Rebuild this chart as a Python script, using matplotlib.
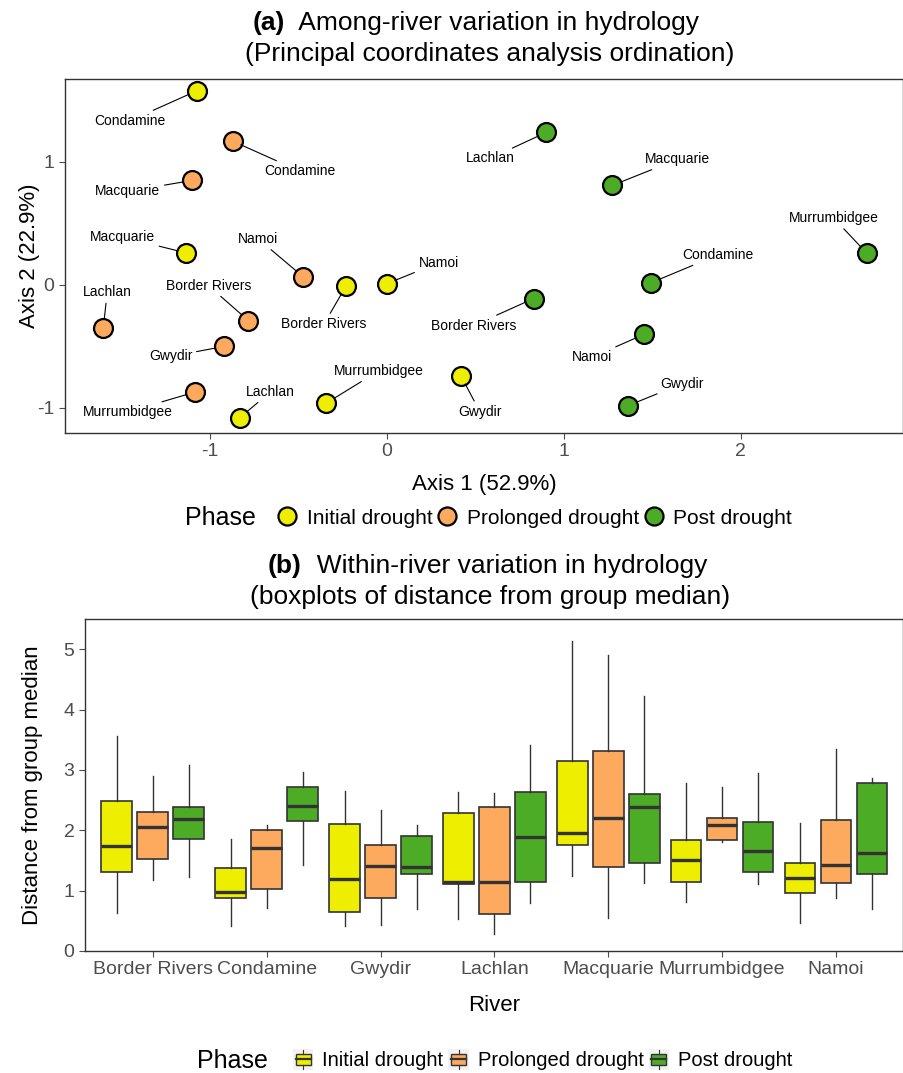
import numpy as np
import matplotlib
matplotlib.use('Agg')
import matplotlib.pyplot as plt
from matplotlib.lines import Line2D
from matplotlib.patches import Rectangle, Patch
from matplotlib.legend_handler import HandlerBase

plt.rcParams['font.family'] = ['Liberation Sans', 'DejaVu Sans']
plt.rcParams['axes.unicode_minus'] = False

rivers = ['Border Rivers', 'Condamine', 'Gwydir', 'Lachlan', 'Macquarie',
          'Murrumbidgee', 'Namoi']
phases = ['Initial drought', 'Prolonged drought', 'Post drought']
colors = ['#EEEE00', '#FDAA5E', '#4DAC26']

# PCoA scores, river order as above
initial_x = [-0.23, -1.07, 0.42, -0.83, -1.13, -0.34, 0.00]
initial_y = [-0.01, 1.58, -0.74, -1.08, 0.26, -0.96, 0.01]
prolonged_x = [-0.78, -0.87, -0.92, -1.60, -1.10, -1.08, -0.47]
prolonged_y = [-0.29, 1.17, -0.50, -0.35, 0.85, -0.87, 0.065]
post_x = [0.83, 1.49, 1.365, 0.90, 1.275, 2.71, 1.455]
post_y = [-0.11, 0.016, -0.98, 1.24, 0.81, 0.26, -0.40]

# distance from group median: whislo, q1, median, q3, whishi
initial_box = [[0.63, 1.31, 1.74, 2.48, 3.56],
               [0.41, 0.88, 0.97, 1.38, 1.85],
               [0.41, 0.64, 1.19, 2.10, 2.65],
               [0.53, 1.11, 1.14, 2.29, 2.64],
               [1.24, 1.75, 1.96, 3.14, 5.13],
               [0.82, 1.15, 1.50, 1.84, 2.79],
               [0.47, 0.96, 1.21, 1.46, 2.12]]
prolonged_box = [[1.17, 1.52, 2.06, 2.31, 2.90],
                 [0.71, 1.03, 1.70, 2.00, 2.08],
                 [0.43, 0.87, 1.40, 1.75, 2.33],
                 [0.28, 0.61, 1.14, 2.38, 2.62],
                 [0.55, 1.39, 2.20, 3.31, 4.91],
                 [1.80, 1.84, 2.09, 2.21, 2.71],
                 [0.88, 1.13, 1.43, 2.17, 3.34]]
post_box = [[1.22, 1.86, 2.18, 2.38, 3.08],
            [1.42, 2.16, 2.40, 2.72, 2.97],
            [0.70, 1.27, 1.39, 1.90, 2.09],
            [0.80, 1.14, 1.89, 2.64, 3.42],
            [1.13, 1.45, 2.39, 2.60, 4.23],
            [1.11, 1.31, 1.65, 2.14, 2.95],
            [0.69, 1.28, 1.63, 2.78, 2.87]]

# repel-style label offsets (pixels), layout only
label_offsets = [
    [(-22, -38), (-67, -30), (19, -36), (31, 26), (-64, 16), (52, 32), (52, 21)],
    [(-40, 35), (67, -30), (-53, -10), (4, 36), (-64, -11), (-68, -20), (-45, 38)],
    [(-60, -27), (67, 28), (54, 22), (-56, -26), (65, 26), (-33, 35), (-52, -23)],
]

tick_col = '#4D4D4D'

fig = plt.figure(figsize=(9.04, 10.73), dpi=100)

# ---------------- (a) PCoA ----------------
ax1 = fig.add_axes([0.0719, 0.5965, 0.9271, 0.3299])
xs = [initial_x, prolonged_x, post_x]
ys = [initial_y, prolonged_y, post_y]
for k in range(3):
    ax1.scatter(xs[k], ys[k], s=185, c=colors[k], edgecolors='black',
                linewidths=1.6, zorder=3)
    for i, r in enumerate(rivers):
        ax1.annotate(r, (xs[k][i], ys[k][i]), xytext=label_offsets[k][i],
                     textcoords='offset pixels', ha='center', va='center',
                     fontsize=10, zorder=4,
                     arrowprops=dict(arrowstyle='-', color='black', lw=0.8,
                                     shrinkA=1, shrinkB=6.5))
ax1.set_xlim(-1.816, 2.916)
ax1.set_ylim(-1.203, 1.675)
ax1.set_xticks([-1, 0, 1, 2])
ax1.set_yticks([-1, 0, 1])
ax1.set_xlabel('Axis 1 (52.9%)', fontsize=16, labelpad=10)
ax1.set_ylabel('Axis 2 (22.9%)', fontsize=16, labelpad=-2)

# ---------------- (b) boxplots ----------------
ax2 = fig.add_axes([0.094, 0.1137, 0.905, 0.3094])
boxes = [initial_box, prolonged_box, post_box]
offset = 0.316
for k in range(3):
    stats = []
    for i in range(len(rivers)):
        lo, q1, med, q3, hi = boxes[k][i]
        stats.append(dict(whislo=lo, q1=q1, med=med, q3=q3, whishi=hi,
                          fliers=[]))
    pos = [i + 1 + (k - 1) * offset for i in range(len(rivers))]
    ax2.bxp(stats, positions=pos, widths=0.27, patch_artist=True,
            showcaps=False, showfliers=False,
            boxprops=dict(facecolor=colors[k], edgecolor='#333333', lw=1.2),
            medianprops=dict(color='#333333', lw=2.4),
            whiskerprops=dict(color='#333333', lw=1.0))
ax2.set_xlim(0.404, 7.59)
ax2.set_ylim(0, 5.5)
ax2.set_xticks(range(1, len(rivers) + 1))
ax2.set_xticklabels(rivers)
ax2.set_yticks([0, 1, 2, 3, 4, 5])
ax2.set_xlabel('River', fontsize=16, labelpad=12)
ax2.set_ylabel('Distance from group median', fontsize=16, labelpad=15)

for ax in (ax1, ax2):
    for sp in ax.spines.values():
        sp.set_color('#333333')
        sp.set_linewidth(1.0)
    ax.tick_params(colors=tick_col, labelsize=14, length=4, width=0.8)
    ax.tick_params(labelcolor=tick_col)

# ---------------- titles ----------------
def two_part_title(x, y, bold, rest, line2, x2):
    t = fig.text(x, y, bold, fontsize=19, weight='bold', ha='left', va='baseline')
    fig.canvas.draw()
    bb = t.get_window_extent()
    fig.text((bb.x1) / fig.bbox.width, y, '  ' + rest, fontsize=19,
             ha='left', va='baseline')
    fig.text(x2, y - 31 / 1073, line2, fontsize=19, ha='center', va='baseline')

two_part_title(253 / 904, 1 - 30 / 1073, '(a)', 'Among-river variation in hydrology',
               '(Principal coordinates analysis ordination)', 490 / 904)
two_part_title(268 / 904, 1 - 573 / 1073, '(b)', 'Within-river variation in hydrology',
               '(boxplots of distance from group median)', 490 / 904)

# ---------------- legends ----------------
fig.text(185 / 904, 1 - 518 / 1073, 'Phase', fontsize=18, ha='left', va='center')
h1 = [Line2D([], [], ls='none', marker='o', markersize=13, markerfacecolor=c,
             markeredgecolor='black', markeredgewidth=1.6) for c in colors]
fig.legend(h1, phases, loc='center left', bbox_to_anchor=(264 / 904, 1 - 518 / 1073),
           ncol=3, frameon=False, fontsize=15, handlelength=1.2,
           handletextpad=0.35, columnspacing=0.1, borderpad=0)


class BoxKey(HandlerBase):
    def create_artists(self, legend, orig, x0, y0, w, h, fontsize, trans):
        fc = orig.get_facecolor()
        bg = Rectangle((x0, y0 - 0.25 * h), w, 1.5 * h, facecolor='#F2F2F2',
                       edgecolor='none', transform=trans)
        cx = x0 + w / 2
        bw = 0.75 * w
        box = Rectangle((cx - bw / 2, y0 + 0.1 * h), bw, 0.8 * h, facecolor=fc,
                        edgecolor='#333333', lw=1.0, transform=trans)
        med = Line2D([cx - bw / 2, cx + bw / 2], [y0 + 0.5 * h] * 2,
                     color='#333333', lw=1.6, transform=trans)
        wt = Line2D([cx, cx], [y0 + 0.9 * h, y0 + 1.2 * h], color='#333333',
                    lw=0.8, transform=trans)
        wb = Line2D([cx, cx], [y0 - 0.2 * h, y0 + 0.1 * h], color='#333333',
                    lw=0.8, transform=trans)
        return [bg, box, med, wt, wb]


fig.text(197 / 904, 1 - 1061 / 1073, 'Phase', fontsize=18, ha='left', va='center')
h2 = [Patch(facecolor=c) for c in colors]
fig.legend(h2, phases, loc='center left', bbox_to_anchor=(283 / 904, 1 - 1061 / 1073),
           ncol=3, frameon=False, fontsize=14.5, handlelength=1.0,
           handler_map={Patch: BoxKey()},
           handletextpad=0.45, columnspacing=0.25, borderpad=0)

fig.savefig('out.png', dpi=100)
